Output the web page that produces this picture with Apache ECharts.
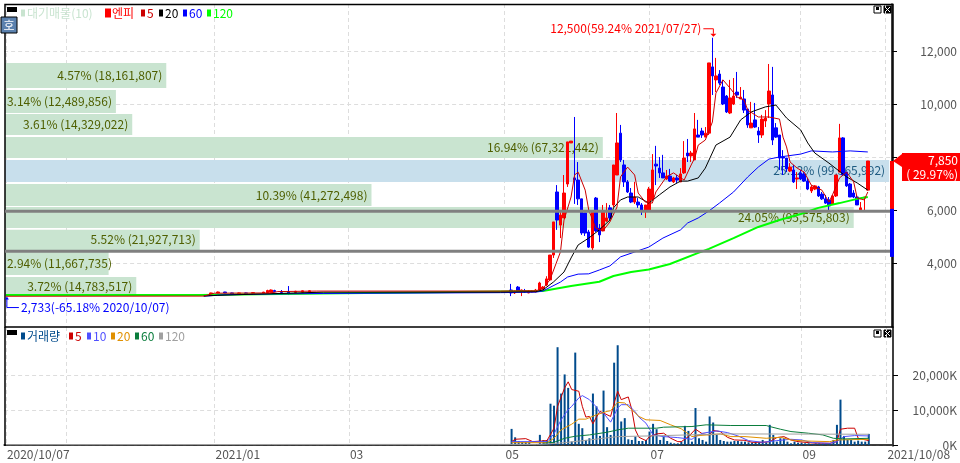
<!DOCTYPE html>
<html>
<head>
<meta charset="utf-8">
<style>html,body{margin:0;padding:0;background:#fff}#chart{width:960px;height:463px}</style>
<script src="https://cdn.jsdelivr.net/npm/echarts@6/dist/echarts.min.js"></script>
</head>
<body>
<div id="chart"></div>
<script>
const dayCount = 251
const days = Array.from({length: dayCount}, (_, i) => i)
const tickDays = [0, 59, 97, 141, 182, 225, 249]
const tickLabels = ['2020/10/07', '2021/01', '03', '05', '07', '09', '2021/10/08']
const gridDays = [0, 17, 59, 97, 141, 182, 225, 249]
const priceTicks = [4000, 6000, 8000, 10000, 12000]
const volumeTicks = [0, 10000, 20000]

// day, open, close, low, high
const candles = [
  [58,2830,2870,2830,2880],[60,2870,2905,2860,2920],[62,2905,2870,2860,2910],[64,2870,2830,2820,2880],
  [66,2840,2870,2830,2880],[68,2870,2840,2830,2880],[70,2850,2880,2840,2890],[73,2860,2900,2850,2910],
  [74,2880,2960,2870,2990],[75,2900,2980,2890,3000],[76,2960,2920,2900,2990],[78,2920,2890,2870,2980],
  [80,2920,2880,2790,3130],[82,2890,2930,2880,2950],[84,2900,2950,2890,2960],[86,2910,2950,2900,2960],
  [143,2980,2870,2750,3210],[144,2870,2905,2830,2960],[145,3090,2940,2900,3130],[146,2940,2980,2750,3000],
  [147,2940,2905,2870,3020],[148,2870,2940,2860,2980],[149,2905,2940,2890,2980],[150,2905,2980,2890,3020],
  [151,2980,3245,2940,3290],[152,3020,3090,3000,3130],[153,3170,3400,3130,3500],[154,3360,4300,3320,4300],
  [155,4300,5550,4190,5550],[156,6680,5620,5250,6940],[157,5430,5810,4940,5920],[158,5700,6640,5700,7320],
  [159,6980,8570,6870,8570],[160,8530,8600,8530,8600],[161,7210,7130,6230,9510],[162,7130,6420,6190,7810],
  [163,6420,5130,5060,6420],[164,5890,5130,5020,5890],[165,5170,4600,4570,5250],[166,4570,5920,4450,5920],
  [167,6450,5210,5170,6490],[168,5320,5060,4790,5470],[169,5210,5920,5210,6190],[170,5580,5700,5550,6260],
  [171,6080,5700,5620,6190],[172,6190,7700,6110,7700],[173,7320,8530,7320,9660],[174,8900,7890,7810,9210],
  [175,7700,7060,6870,7890],[176,7060,6680,6640,7130],[177,6640,6300,6260,6830],[178,6300,6490,6230,7060],
  [179,6300,6190,6080,6450],[180,6190,6000,5810,6260],[181,6000,6190,5700,6190],[182,6000,6790,6000,6870],
  [183,6380,7510,6380,8110],[184,7730,7660,6940,8420],[185,7580,7400,7210,8000],[186,7400,7210,7210,8080],
  [187,7170,7280,7130,7510],[188,7280,7090,7060,7550],[189,7060,7210,7020,7250],[190,7210,7130,7020,7320],
  [191,7060,7360,7060,7580],[192,7400,7960,7360,8600],[193,8150,8040,7810,8680],[194,8040,8150,7810,8230],
  [195,7890,9060,7890,9660],[196,8830,8750,8750,9400],[197,8980,8830,8720,9100],[198,8750,8900,8750,9130],
  [199,8900,11550,8830,11550],[200,11400,11060,10340,12500],[201,10910,11060,10450,11740],[202,11130,10790,10720,11280],
  [203,10640,10000,9960,10910],[204,10300,9700,9660,10340],[205,9660,10230,9620,10910],[206,10000,10300,9960,10980],
  [207,10450,10340,10230,11210],[208,10190,10260,10190,10640],[209,10190,9770,9660,10530],[210,9810,9210,9100,9810],
  [211,9100,9280,9100,10080],[212,9400,9130,9100,10040],[213,8980,8830,8530,9130],[214,8830,9430,8720,9590],
  [215,9360,9470,9130,9770],[216,10000,10490,9470,11510],[217,10340,8640,8450,11400],[218,9100,8750,8720,9280],
  [219,8830,7960,7510,8830],[220,8000,7960,7320,8260],[221,7960,7550,7430,7960],[222,7470,7620,7430,7770],
  [223,7510,7060,7020,7700],[224,7170,7210,6790,7430],[225,7400,7170,7130,7510],[226,7360,7090,7060,7430],
  [227,7090,6790,6750,7210],[228,6720,6870,6640,6940],[229,6790,6910,6750,6940],[230,6870,6530,6490,6910],
  [231,6600,6420,6380,6680],[232,6420,6260,6230,6570],[233,6380,6150,6000,6490],[234,6230,6530,6190,6570],
  [235,6530,7320,6490,7320],[236,7430,8720,7430,9250],[237,8720,7320,7280,8750],[238,7430,6910,6870,7430],
  [239,6980,6490,6490,7020],[240,6640,6490,6450,6750],[241,6490,6190,6190,6570],[242,6000,6080,6000,6300],
  [243,6450,6490,6000,6490],[244,6750,7850,6750,7850]
]

const ma5 = [[0,2745],[56,2750],[59,2860],[75,2870],[77,2920],[88,2940],[140,2940],[146,2950],[150,2950],[152,3030],[154,3360],[157,4420],[158,5620],[160,6490],[161,7320],[162,7430],[164,6750],[165,6000],[167,5320],[169,5210],[171,5550],[173,6110],[174,7250],[176,7620],[178,7320],[179,6640],[181,6300],[183,6260],[184,6680],[187,7250],[189,7400],[192,7130],[194,7700],[195,7960],[196,8450],[198,8640],[200,9320],[201,10410],[203,10910],[205,10600],[207,10260],[209,10150],[210,9770],[213,9510],[216,9510],[219,9430],[220,8750],[221,8380],[222,7810],[224,7580],[226,7430],[228,6940],[231,6750],[233,6300],[234,6570],[236,7210],[238,7430],[240,7060],[241,6450],[243,6380],[244,6680]]
const ma20 = [[56,2750],[60,2780],[70,2820],[80,2860],[90,2900],[140,2900],[150,2920],[152,2980],[155,3280],[158,3660],[160,4190],[162,4680],[165,4940],[168,5250],[171,5620],[172,6080],[174,6380],[176,6490],[179,6490],[182,6260],[185,6570],[188,6870],[191,7090],[193,7090],[196,7210],[198,7580],[201,8450],[205,8750],[208,9400],[211,9700],[215,9890],[218,9960],[221,9470],[225,9020],[227,8530],[229,8150],[233,7770],[238,7250],[241,7020],[244,6750]]
const ma60 = [[56,2750],[62,2800],[75,2830],[90,2850],[140,2880],[150,2900],[152,2940],[157,3280],[159,3470],[162,3580],[165,3590],[168,3735],[171,3890],[174,4230],[178,4415],[182,4600],[186,4940],[191,5250],[193,5510],[196,5700],[199,5960],[202,6260],[206,6680],[210,7245],[213,7620],[216,7920],[219,8000],[225,8110],[228,8230],[234,8190],[239,8230],[244,8190]]
const ma120 = [[0,2790],[55,2795],[89,2850],[140,2925],[152,2940],[160,3130],[168,3290],[172,3510],[177,3660],[182,3755],[188,3960],[196,4380],[199,4530],[206,4940],[213,5360],[219,5620],[225,5850],[230,6080],[236,6260],[241,6420],[244,6490]]

const volumes = [
  [74,150],[80,150],[143,4600],[144,2200],[145,1100],[146,900],[147,900],[148,900],[151,2900],[152,1400],[153,1400],
  [154,11800],[155,11230],[156,27940],[157,14700],[158,20160],[159,16320],[160,1000],[161,26400],[162,6050],[163,4800],
  [164,1440],[165,1920],[166,14700],[167,11040],[168,2600],[169,15550],[170,5090],[171,2880],[172,23520],[173,28500],
  [174,6720],[175,7680],[176,1630],[177,1440],[178,2400],[179,1150],[180,1150],[181,1440],[182,3840],[183,6050],
  [184,4510],[185,1440],[186,2400],[187,1150],[188,670],[189,480],[190,480],[191,960],[192,5470],[193,4030],
  [194,960],[195,10560],[196,1920],[197,1440],[198,960],[199,8160],[200,6430],[201,2880],[202,1440],[203,1150],
  [204,960],[205,960],[206,1150],[207,1150],[208,960],[209,960],[210,770],[211,670],[212,770],[213,770],
  [214,1440],[215,770],[216,5760],[217,2880],[218,960],[219,1920],[220,1920],[221,960],[222,480],[223,960],
  [224,670],[225,670],[226,480],[227,480],[228,290],[229,480],[230,480],[231,380],[232,380],[233,380],
  [234,1440],[235,5760],[236,12960],[237,2590],[238,1440],[239,1440],[240,960],[241,1250],[242,960],[243,960],[244,3170]
]
const vma5 = [[143,960],[144,1630],[147,1820],[149,960],[153,1250],[155,4800],[156,11040],[158,16320],[159,18050],[160,15840],[162,15360],[163,11040],[164,7970],[165,8160],[166,6050],[167,7970],[168,9600],[170,8640],[171,8160],[172,12000],[173,15360],[174,12960],[176,13730],[177,10080],[178,4320],[179,2210],[181,1250],[182,2400],[184,3170],[186,3360],[188,1920],[190,960],[191,960],[193,2400],[195,4510],[197,3170],[199,2880],[200,4130],[202,3840],[204,2210],[206,1440],[209,1340],[211,770],[214,770],[216,960],[218,2110],[220,2400],[222,1440],[224,960],[228,580],[233,480],[235,960],[236,4510],[238,4800],[240,4800],[241,1920],[244,1250]]
const vma10 = [[143,960],[153,960],[155,3170],[157,7200],[159,10080],[160,11040],[162,13440],[163,14110],[165,12960],[167,10850],[168,9120],[169,9120],[171,6530],[173,10560],[174,11520],[176,11520],[178,9410],[179,7970],[181,6240],[183,2880],[186,2400],[190,2110],[194,1630],[195,2400],[197,3360],[201,4030],[204,3550],[207,2590],[210,1250],[214,770],[218,1250],[222,1630],[225,1440],[228,670],[233,480],[235,960],[237,2400],[240,2690],[244,2590]]
const vma20 = [[143,670],[153,670],[155,1920],[157,4320],[160,5950],[162,7390],[164,7390],[167,8640],[170,9600],[171,9790],[173,12190],[175,12000],[177,10080],[179,8160],[181,7200],[185,7010],[188,5760],[191,4610],[194,2400],[196,2690],[202,3170],[205,2400],[209,2400],[215,1920],[219,2210],[222,1440],[226,1150],[233,960],[235,1440],[244,1630]]
const vma60 = [[152,480],[155,770],[158,1920],[161,2500],[165,2880],[170,3650],[173,4320],[176,4800],[184,4800],[186,5090],[194,5280],[198,5760],[205,5570],[215,5570],[216,5280],[219,4510],[222,3840],[227,3360],[231,2880],[234,1920],[237,1730],[244,1920]]
const vma120 = [[0,100],[150,190],[153,290],[158,670],[165,1440],[173,2400],[182,2590],[204,3170],[244,3070]]

// 대기매물 rows, top band first
const bandVolumes = [18161807, 12489856, 14329022, 67321442, 99565992, 41272498, 95575803, 21927713, 11667735, 14783517]
const bandPercents = ['4.57', '3.14', '3.61', '16.94', '25.12', '10.39', '24.05', '5.52', '2.94', '3.72']
const bandHighs = [11550, 10530, 9620, 8750, 7890, 6980, 6110, 5250, 4415, 3470]
const bandLows = [10600, 9660, 8830, 7960, 7060, 6150, 5320, 4490, 3550, 2750]
const supportLevels = [5950, 4441]

const highDay = 200, highPrice = 12500, highNote = '12,500(59.24% 2021/07/27)'
const lowDay = 0, lowPrice = 2733, lowNote = '2,733(-65.18% 2020/10/07)'
const lastPrice = 7850, prevClose = 6040, lowerLimit = 4230, lastChange = '( 29.97%)'

const numFont = '"Noto Sans CJK KR"'
const candleByDay = days.map(() => '-')
candles.forEach(c => { candleByDay[c[0]] = [c[1], c[2], c[3], c[4]] })

function lineSeries(name, data, color, xIdx, width, z) {
  return {name, type: 'line', data, xAxisIndex: xIdx, yAxisIndex: xIdx, showSymbol: false, symbol: 'none',
    lineStyle: {color, width: width || 1}, itemStyle: {color}, z: z || 4, silent: true, animation: false}
}

function legendItem(name, color, left, top) {
  return {left, top, padding: 0, icon: 'rect', itemWidth: 4, itemHeight: 7, selectedMode: false,
    formatter: n => n.replace(/^v/, ''),
    textStyle: {fontFamily: numFont, fontSize: 12, padding: [0, 0, 0, -3]},
    data: [{name, itemStyle: {color}, textStyle: {color}}]}
}

function windowButtons(y) {
  return [
    {type: 'rect', shape: {x: 874, y: y - 4, width: 7, height: 7}, style: {fill: '#fff', stroke: '#000', lineWidth: 1}},
    {type: 'rect', shape: {x: 876, y: y - 3, width: 3, height: 3}, style: {fill: '#000'}},
    {type: 'rect', shape: {x: 884, y: y - 4, width: 7, height: 7}, style: {fill: '#000', stroke: '#000', lineWidth: 1}},
    {type: 'line', shape: {x1: 885, y1: y - 3, x2: 890, y2: y + 2}, style: {stroke: '#fff', lineWidth: 1}},
    {type: 'line', shape: {x1: 890, y1: y - 3, x2: 885, y2: y + 2}, style: {stroke: '#fff', lineWidth: 1}}
  ]
}

const dashed = {show: true, lineStyle: {color: '#dddddd', type: [4, 3], width: 1}}

const option = {
  animation: false,
  backgroundColor: '#fff',
  grid: [
    {left: 4.11, top: 4, width: 887.65, height: 323},
    {left: 4.11, top: 327, width: 887.65, height: 119},
    {left: 5, top: 4, width: 888, height: 323}
  ],
  xAxis: [
    {type: 'category', gridIndex: 0, data: days, axisLine: {show: false}, axisTick: {show: false}, axisLabel: {show: false},
      splitLine: Object.assign({interval: i => gridDays.includes(i), alignWithLabel: true}, dashed)},
    {type: 'category', gridIndex: 1, data: days,
      axisLine: {lineStyle: {color: '#000', width: 1.5}},
      axisTick: {alignWithLabel: true, length: 6, interval: i => tickDays.includes(i), lineStyle: {color: '#333'}},
      axisLabel: {interval: i => tickDays.includes(i), align: 'left', margin: 2, color: '#555', fontFamily: numFont, fontSize: 12,
        padding: [0, 0, 0, 1], showMinLabel: true, showMaxLabel: true, hideOverlap: false,
        formatter: (v, i) => tickLabels[tickDays.indexOf(i)] || ''},
      splitLine: Object.assign({interval: i => gridDays.includes(i), alignWithLabel: true}, dashed)},
    {type: 'value', gridIndex: 2, min: 0, max: 100000000, show: false}
  ],
  yAxis: [
    {type: 'value', gridIndex: 0, position: 'right', offset: 1.24, min: 1584, max: 13774, scale: false,
      axisLine: {show: true, lineStyle: {color: '#000', width: 1.5}},
      axisTick: {show: true, length: 5, customValues: priceTicks, lineStyle: {color: '#000'}},
      axisLabel: {customValues: priceTicks, align: 'right', margin: 65, color: '#555', fontFamily: numFont, fontSize: 12,
        formatter: v => v.toLocaleString('en-US')},
      splitLine: dashed},
    {type: 'value', gridIndex: 1, position: 'right', offset: 1.24, min: -286, max: 33714,
      axisLine: {show: true, lineStyle: {color: '#000', width: 1.5}},
      axisTick: {show: true, length: 5, customValues: volumeTicks, lineStyle: {color: '#000'}},
      axisLabel: {customValues: volumeTicks, align: 'right', margin: 64, color: '#555', fontFamily: numFont, fontSize: 12,
        formatter: v => v.toLocaleString('en-US') + 'K'},
      splitLine: dashed},
    {type: 'value', gridIndex: 2, min: 1584, max: 13774, show: false}
  ],
  legend: [
    legendItem('대기매물(10)', '#c9e4d0', 21, 7),
    legendItem('엔피', '#ff0000', 105, 7),
    legendItem('5', '#cc0000', 141, 7),
    legendItem('20', '#000000', 159, 7),
    legendItem('60', '#0000ff', 183, 7),
    legendItem('120', '#00ff00', 207, 7),
    legendItem('거래량', '#004b8c', 21, 330),
    legendItem('v5', '#cc0000', 69, 330),
    legendItem('v10', '#5050ff', 87, 330),
    legendItem('v20', '#e09000', 111, 330),
    legendItem('v60', '#0a7d3c', 135, 330),
    legendItem('v120', '#a0a0a0', 159, 330)
  ],
  graphic: [
    {type: 'rect', z: 6, shape: {x: 5, y: 4.5, width: 888, height: 322.5}, style: {fill: 'none', stroke: '#000', lineWidth: 1.5}},
    {type: 'line', z: 6, shape: {x1: 5, y1: 446, x2: 5, y2: 327}, style: {stroke: '#000', lineWidth: 1.5}},
    {type: 'rect', z: 50, shape: {x: 7, y: 7, width: 10, height: 5}, style: {fill: '#000'}},
    {type: 'rect', z: 50, shape: {x: 7, y: 330, width: 10, height: 5}, style: {fill: '#000'}},
    {type: 'rect', z: 50, shape: {x: 1, y: 17, width: 16, height: 16}, style: {fill: '#5b81ae', stroke: '#000', lineWidth: 1}},
    {type: 'text', z: 51, style: {x: 9, y: 25, text: '호', fill: '#fff', font: '12px "Noto Sans CJK KR"', align: 'center', verticalAlign: 'middle'}},
    {type: 'group', z: 50, children: windowButtons(10).concat(windowButtons(334))}
  ],
  series: [
    {name: '대기매물(10)', type: 'custom', xAxisIndex: 2, yAxisIndex: 2, z: 1, silent: true,
      itemStyle: {color: '#c9e4d0'},
      data: bandVolumes.map((v, k) => [v, bandLows[k], bandHighs[k]]),
      encode: {x: 0, y: [1, 2]},
      renderItem: (params, api) => {
        const k = params.dataIndex
        const start = api.coord([0, api.value(2)])
        const end = api.coord([api.value(0), api.value(1)])
        const top = k === bandVolumes.indexOf(Math.max.apply(null, bandVolumes))
        const label = bandPercents[k] + '% (' + bandVolumes[k].toLocaleString('en-US') + ')'
        return {type: 'group', children: [
          {type: 'rect', shape: {x: start[0], y: start[1], width: end[0] - start[0], height: end[1] - start[1]},
            style: {fill: top ? '#c8dfec' : '#c9e4d0'}},
          {type: 'text', style: {x: Math.max(end[0] - 4, 112), y: (start[1] + end[1]) / 2, text: label, align: 'right', verticalAlign: 'middle',
            fill: top ? '#1d5a80' : '#4f5f00', font: '12px ' + numFont}}
        ]}
      }},
    {name: '엔피', type: 'candlestick', xAxisIndex: 0, yAxisIndex: 0, z: 3, barWidth: 3, silent: true,
      data: candleByDay,
      itemStyle: {color: '#ff0000', color0: '#0000ff', borderColor: '#ff0000', borderColor0: '#0000ff', borderWidth: 1}},
    lineSeries('120', ma120, '#00ff00', 0, 2, 4),
    lineSeries('60', ma60, '#0000ff', 0, 1, 4),
    lineSeries('20', ma20, '#000000', 0, 1, 4),
    lineSeries('5', ma5, '#cc0000', 0, 1, 5),
    {name: 'levels', type: 'line', xAxisIndex: 2, yAxisIndex: 2, symbol: 'none', silent: true, z: 6,
      data: [[0, supportLevels[0]], [100000000, supportLevels[0]]], lineStyle: {color: '#808080', width: 3}},
    {name: 'levels2', type: 'line', xAxisIndex: 2, yAxisIndex: 2, symbol: 'none', silent: true, z: 6,
      data: [[0, supportLevels[1]], [100000000, supportLevels[1]]], lineStyle: {color: '#808080', width: 3}},
    {name: 'notes', type: 'custom', xAxisIndex: 0, yAxisIndex: 0, z: 7, silent: true,
      data: [[0, 0]],
      renderItem: (params, api) => {
        const hi = api.coord([highDay, highPrice])
        const lo = api.coord([lowDay, lowPrice])
        const last = api.coord([dayCount - 1, lastPrice])[1]
        const prev = api.coord([dayCount - 1, prevClose])[1]
        const limit = api.coord([dayCount - 1, lowerLimit])[1]
        const font = '12px ' + numFont
        const hx = hi[0] + 1, hy = hi[1] - 9
        const lx = lo[0] + 1, ly = lo[1] + 11
        return {type: 'group', children: [
          {type: 'text', style: {x: hx - 12, y: hy, text: highNote, align: 'right', verticalAlign: 'middle', fill: '#ff0000', font}},
          {type: 'polyline', shape: {points: [[hx - 10, hy], [hx, hy], [hx, hy + 5]]}, style: {fill: 'none', stroke: '#ff0000', lineWidth: 1}},
          {type: 'polygon', shape: {points: [[hx - 3, hy + 5], [hx + 3, hy + 5], [hx, hy + 8]]}, style: {fill: '#ff0000'}},
          {type: 'text', style: {x: lx + 14, y: ly, text: lowNote, align: 'left', verticalAlign: 'middle', fill: '#0000ff', font}},
          {type: 'polyline', shape: {points: [[lx + 12, ly], [lx, ly], [lx, ly - 9]]}, style: {fill: 'none', stroke: '#0000ff', lineWidth: 1}},
          {type: 'polygon', shape: {points: [[lx - 2, ly - 8], [lx + 2, ly - 8], [lx, ly - 11]]}, style: {fill: '#0000ff'}},
          // day range bar at the right edge
          {type: 'rect', shape: {x: 890, y: last, width: 4, height: prev - last}, style: {fill: '#ff0000'}},
          {type: 'rect', shape: {x: 890, y: prev, width: 4, height: limit - prev}, style: {fill: '#0000ff'}},
          // last price tag
          {type: 'polygon', shape: {points: [[893, last], [902, last - 7], [902, last + 6]]}, style: {fill: '#ff0000'}},
          {type: 'rect', shape: {x: 902, y: last - 8, width: 58, height: 28}, style: {fill: '#ff0000'}},
          {type: 'text', style: {x: 958, y: last - 1, text: lastPrice.toLocaleString('en-US'), align: 'right', verticalAlign: 'middle', fill: '#fff', font}},
          {type: 'text', style: {x: 958, y: last + 13, text: lastChange, align: 'right', verticalAlign: 'middle', fill: '#fff', font}}
        ]}
      }},
    {name: '거래량', type: 'bar', xAxisIndex: 1, yAxisIndex: 1, data: volumes, barWidth: 2, silent: true, z: 2, itemStyle: {color: '#004b8c'}},
    lineSeries('v5', vma5, '#cc0000', 1),
    lineSeries('v10', vma10, '#5050ff', 1),
    lineSeries('v20', vma20, '#e09000', 1),
    lineSeries('v60', vma60, '#0a7d3c', 1),
    lineSeries('v120', vma120, '#a0a0a0', 1)
  ]
}

const chart = echarts.init(document.getElementById('chart'), null, {renderer: 'canvas'})
chart.setOption(option)
</script>
</body>
</html>
